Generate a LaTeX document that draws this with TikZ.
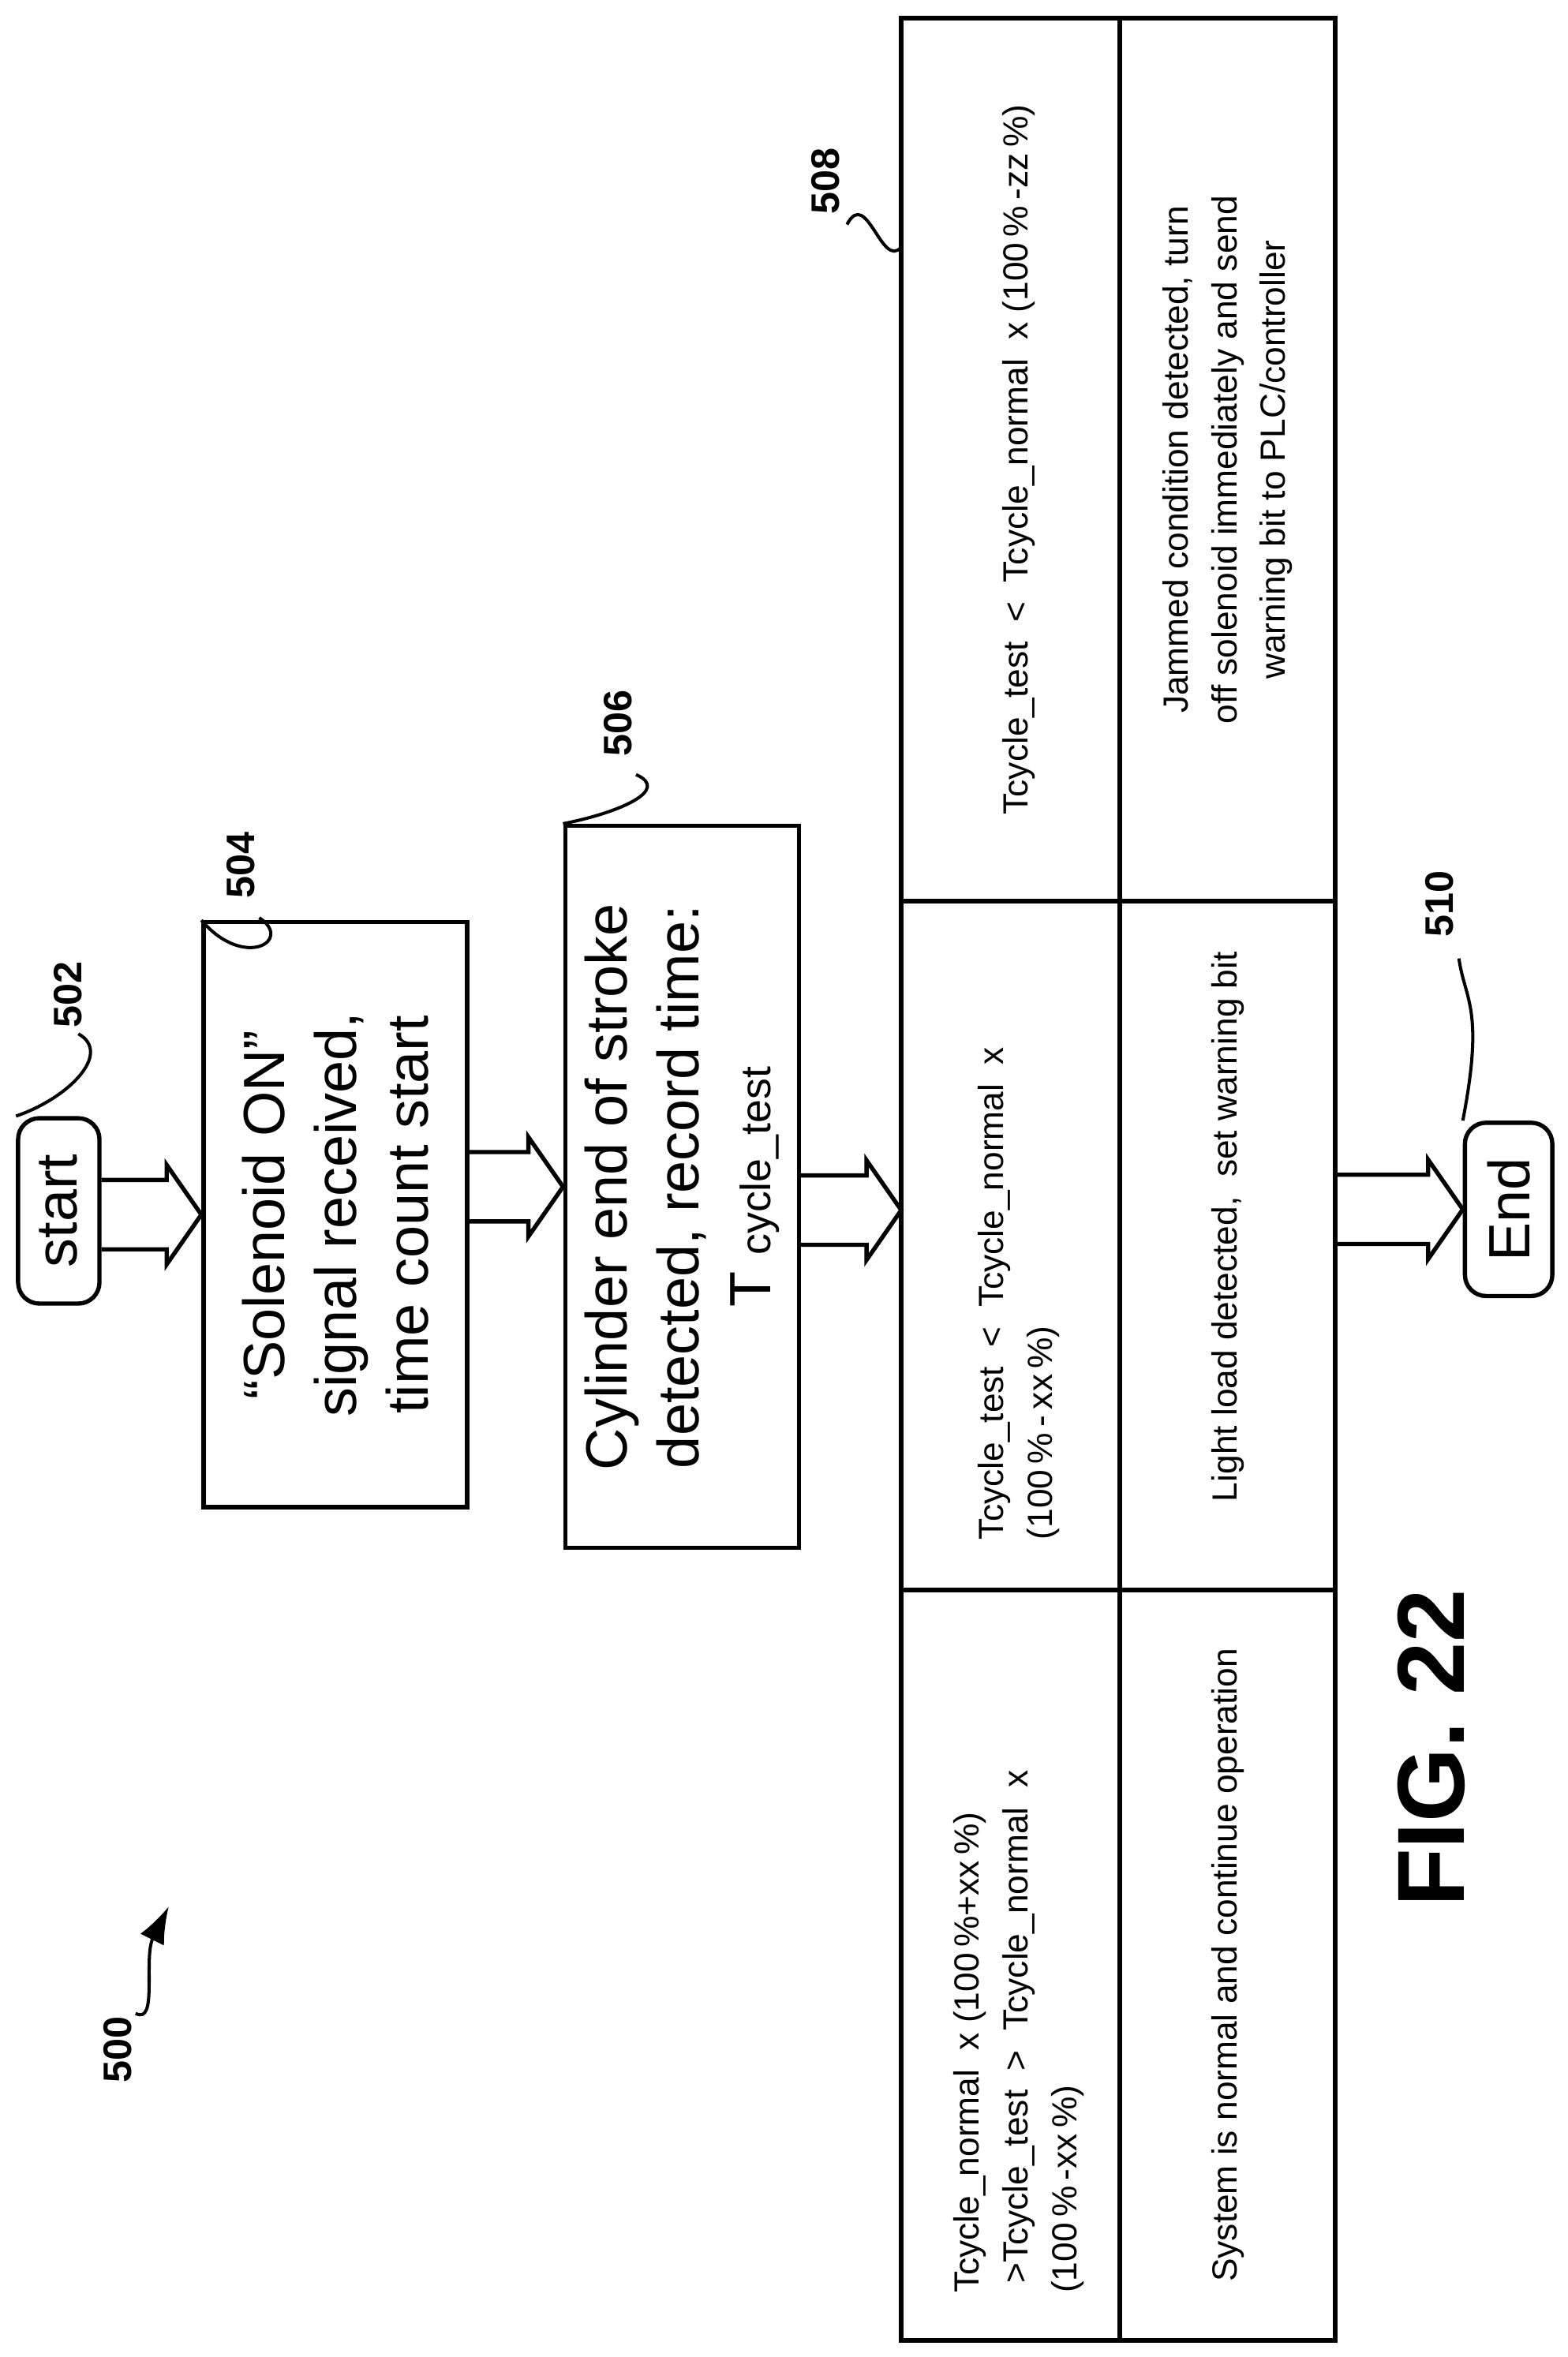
\documentclass[tikz,border=0pt]{standalone}
\usepackage{fontspec}
\setmainfont{Liberation Sans}
\usetikzlibrary{positioning,calc,arrows.meta}
\tikzset{
stepbox/.style={draw, line width=0.8pt, rotate=90, align=center,
  font=\fontsize{11}{13.6}\selectfont},
termbox/.style={stepbox, rounded corners=4pt},
cell/.style={rotate=90, font=\fontsize{6.6}{9.2}\selectfont},
reflabel/.style={rotate=90, font=\fontsize{7.5}{9}\selectfont\bfseries},
leader/.style={line width=0.6pt}
}
% hollow block arrow from one node to the next
\newcommand{\fatarrow}[2]{%
\draw[line width=0.8pt] let \p1=(#1), \p2=(#2) in
  (\x1,\y2+0.23cm) -- (\x2-0.23cm,\y2+0.23cm) -- (\x2-0.23cm,\y2+0.33cm)
  -- (\x2,\y2) -- (\x2-0.23cm,\y2-0.33cm) -- (\x2-0.23cm,\y2-0.23cm)
  -- (\x1,\y2-0.23cm);}

\begin{document}
\begin{tikzpicture}
\useasboundingbox (0,0) rectangle (10.4,15.64);

\node[termbox, minimum width=1.23cm, minimum height=0.54cm] (start) at (0.39,7.605) {start};
\node[stepbox, minimum width=3.88cm, minimum height=1.75cm] (sol) at (2.225,7.58)
  {``Solenoid ON''\\signal received,\\time count start};
\node[stepbox, minimum width=4.79cm, minimum height=1.55cm] (cyl) at (4.525,7.765)
  {Cylinder end of stroke\\detected, record time:\\T {\fontsize{8}{10}\selectfont cycle\_test}};
\node[termbox, minimum width=1.15cm, minimum height=0.58cm] (end) at (10.01,7.615) {End};

% table of outcomes
\draw[line width=0.8pt] (5.98,0.11) rectangle (8.86,15.52);
\draw[line width=0.8pt] (7.43,0.11) -- (7.43,15.52);
\draw[line width=0.8pt] (5.98,5.09) -- (8.86,5.09);
\draw[line width=0.8pt] (5.98,9.66) -- (8.86,9.66);
\coordinate (tabL) at (5.98,7.61);
\coordinate (tabR) at (8.86,7.61);

\node[cell, anchor=west, align=left] (c11) at (6.76,0.3)
  {Tcycle\_normal\ \ x (100\,\%+xx\,\%)\\\ >Tcycle\_test\ \ >\ \ Tcycle\_normal\ \ x\\(100\,\%\,-xx\,\%)};
\node[cell, anchor=west, align=left] (c12) at (6.76,5.3)
  {Tcycle\_test\ \ <\ \ Tcycle\_normal\ \ x\\(100\,\%\,-\,xx\,\%)};
\node[cell] (c13) at (6.76,12.59)
  {Tcycle\_test\ \ <\ \ Tcycle\_normal\ \ x (100\,\%\,-zz\,\%)};
\node[cell] (c21) at (8.145,2.6) {System is normal and continue operation};
\node[cell] (c22) at (8.145,7.5) {Light load detected,\ \ set warning bit};
\node[cell, align=center] (c23) at (8.145,12.59)
  {Jammed condition detected, turn\\off solenoid immediately and send\\warning bit to PLC/controller};

\fatarrow{start.south}{sol.north}
\fatarrow{sol.south}{cyl.north}
\fatarrow{cyl.south}{tabL}
\fatarrow{tabR}{end.north}

% reference numerals
\node[reflabel] (n502) at (0.45,9.04) {502};
\draw[leader] (0.52,8.78) .. controls (0.75,8.65) and (0.45,8.35) .. (start.north east);
\node[reflabel] (n504) at (1.6,9.9) {504};
\draw[leader] (1.72,9.55) .. controls (1.95,9.4) and (1.62,9.2) .. (sol.north east);
\node[reflabel] (n506) at (4.1,10.84) {506};
\draw[leader] (4.22,10.5) .. controls (4.45,10.4) and (4.12,10.25) .. (cyl.north east);
\node[reflabel] (n508) at (5.48,14.44) {508};
\coordinate (t508) at (5.98,14.0);
\draw[leader] (5.62,14.15) .. controls (5.75,14.4) and (5.85,13.85) .. (t508);
\node[reflabel] (n510) at (9.55,9.64) {510};
\draw[leader] (9.68,9.28) .. controls (9.72,9.0) and (9.85,8.95) .. (end.north east);
\node[reflabel] (n500) at (0.78,2.04) {500};
\coordinate (t500) at (1.12,2.99);
\draw[leader, -{Latex[length=7pt,width=5pt]}] (0.9,2.28) .. controls (1.05,2.2) and (0.95,2.65) .. (t500);

\node[rotate=90, font=\fontsize{18}{20}\selectfont\bfseries] (fig) at (9.5,4.04) {FIG. 22};
\end{tikzpicture}
\end{document}
